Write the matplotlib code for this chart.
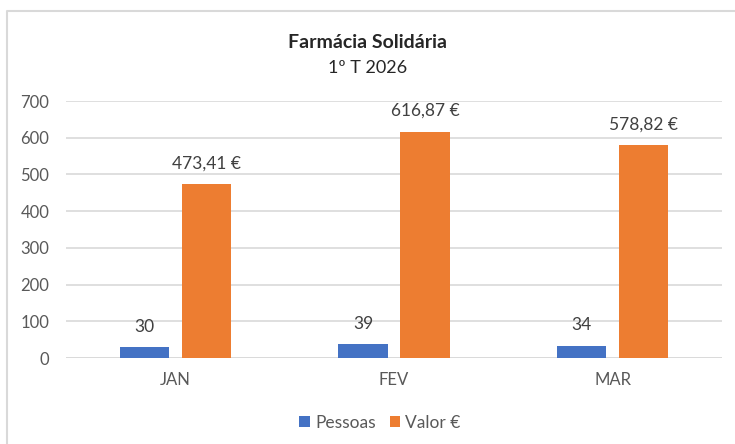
import matplotlib
matplotlib.use("Agg")
import matplotlib.pyplot as plt
from matplotlib.lines import Line2D
import numpy as np

categories = ["JAN", "FEV", "MAR"]
pessoas = [30, 39, 34]
valor = [473.41, 616.87, 578.82]
series_names = ["Pessoas", "Valor €"]
yticks = [0, 100, 200, 300, 400, 500, 600, 700]

plt.rcParams['font.family'] = ['Lato', 'DejaVu Sans']

W, H = 735, 444
fig = plt.figure(figsize=(W/100, H/100), dpi=100)
ax = fig.add_axes([66/W, 1-358/H, (722-66)/W, (358-101)/H])

blue = "#4472C4"
orange = "#ED7D31"
x = np.arange(len(categories))
bw = 0.225
off = 0.142
b1 = ax.bar(x - off, pessoas, bw, color=blue, label=series_names[0], zorder=3)
b2 = ax.bar(x + off, valor, bw, color=orange, label=series_names[1], zorder=3)

for xi, v in zip(x, pessoas):
    ax.annotate(f"{v}", (xi - off, v), xytext=(0, 14.5), textcoords="offset points",
                ha="center", va="center", fontsize=12.5, color="#404040")
for xi, v in zip(x, valor):
    s = f"{v:.2f}".replace(".", ",") + " €"
    ax.annotate(s, (xi + off, v), xytext=(0, 15), textcoords="offset points",
                ha="center", va="center", fontsize=12.5, color="#404040")

ax.set_xlim(-0.5, len(categories) - 0.5)
ax.set_ylim(0, 700)
ax.set_yticks(yticks)
ax.set_xticks(x)
ax.set_xticklabels(categories)
ax.yaxis.grid(True, color="#D9D9D9", linewidth=1.2, zorder=0)
for s in ["top", "right", "left", "bottom"]:
    ax.spines[s].set_visible(False)
ax.axhline(0, color="#D9D9D9", linewidth=1.2, zorder=2)
ax.tick_params(axis="both", length=0, labelsize=12, labelcolor="#595959")
ax.tick_params(axis="y", pad=12)
ax.tick_params(axis="x", pad=10)

fig.text(0.5, 1-42/H, "Farmácia Solidária", ha="center", va="center",
         fontsize=14, fontweight="bold", color="#262626")
fig.text(0.5, 1-68/H, "1º T 2026", ha="center", va="center",
         fontsize=13, color="#262626")

leg = fig.legend(handles=[b1, b2], labels=series_names, loc="center",
                 bbox_to_anchor=(380/W, 1-423/H), ncol=2, frameon=False,
                 fontsize=12.5, handlelength=0.6, handleheight=0.6,
                 handletextpad=0.3, columnspacing=0.8)
for t in leg.get_texts():
    t.set_color("#595959")

fig.add_artist(Line2D([7/W, 7/W, 1.0], [0, 1-11/H, 1-11/H], transform=fig.transFigure,
                      color="#D9D9D9", linewidth=1.5))

fig.savefig("out.png", dpi=100)
